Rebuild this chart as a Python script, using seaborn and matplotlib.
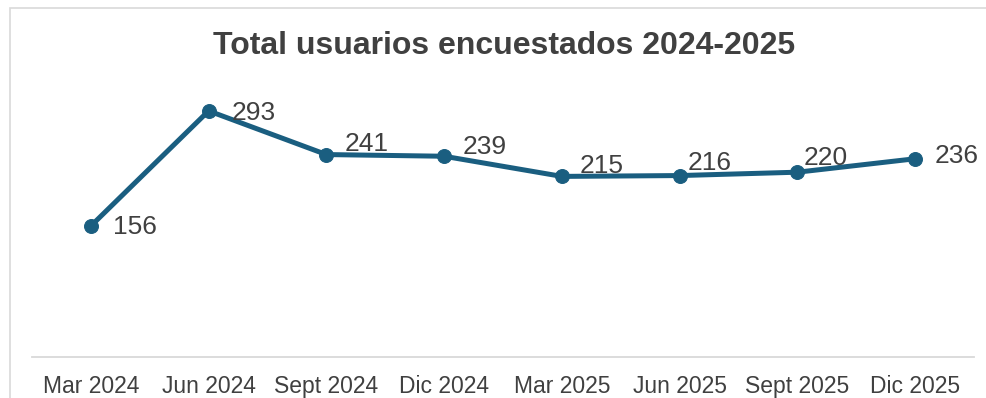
import matplotlib
matplotlib.use("Agg")
import matplotlib.pyplot as plt
import seaborn as sns
import pandas as pd
from matplotlib.patches import Rectangle

categories = ["Mar 2024", "Jun 2024", "Sept 2024", "Dic 2024",
              "Mar 2025", "Jun 2025", "Sept 2025", "Dic 2025"]
values = [156, 293, 241, 239, 215, 216, 220, 236]
title = "Total usuarios encuestados 2024-2025"

# label placement (pixels, relative to the point)
label_dx = [22, 23, 18, 19, 18, 8, 6, 20]
label_dy = [-1, -2, 11, 9, 10, 13, 14, 3]

LINE = "#1a5e80"
TEXT = "#404040"
GRID = "#d9d9d9"

sns.set_theme(style="white")
plt.rcParams["font.family"] = ["Liberation Sans", "DejaVu Sans"]

df = pd.DataFrame({"cat": categories, "val": values, "pos": range(len(categories))})

fig = plt.figure(figsize=(9.87, 3.98), dpi=100)
ax = fig.add_axes([32 / 987, 41 / 398, 942 / 987, 294 / 398])

sns.lineplot(data=df, x="pos", y="val", ax=ax, color=LINE, linewidth=3.6,
             marker="o", markersize=10, markeredgecolor=LINE, sort=False)

for i, v in enumerate(values):
    ax.annotate(str(v), (i, v), xytext=(label_dx[i], label_dy[i]),
                textcoords="offset pixels",
                va="center", ha="left", fontsize=19, color=TEXT)

ax.set_xlim(-0.5, len(categories) - 0.5)
ax.set_ylim(0, 350)
ax.set_xticks(range(len(categories)))
ax.set_xticklabels(categories, fontsize=16.5, color=TEXT)
ax.tick_params(axis="x", length=0, pad=13)
ax.set_yticks([])
ax.set_xlabel("")
ax.set_ylabel("")
for s in ["top", "right", "left"]:
    ax.spines[s].set_visible(False)
ax.spines["bottom"].set_color(GRID)
ax.spines["bottom"].set_linewidth(1.3)

fig.text(504 / 987, 1 - 46 / 398, title, ha="center", va="center",
         fontsize=23, fontweight="bold", color=TEXT)

fig.patches.append(Rectangle((10 / 987, -0.1), 1.2, 1.1 - 8 / 398,
                             transform=fig.transFigure, fill=False,
                             edgecolor=GRID, linewidth=1.2))

fig.savefig("out.png", dpi=100)
